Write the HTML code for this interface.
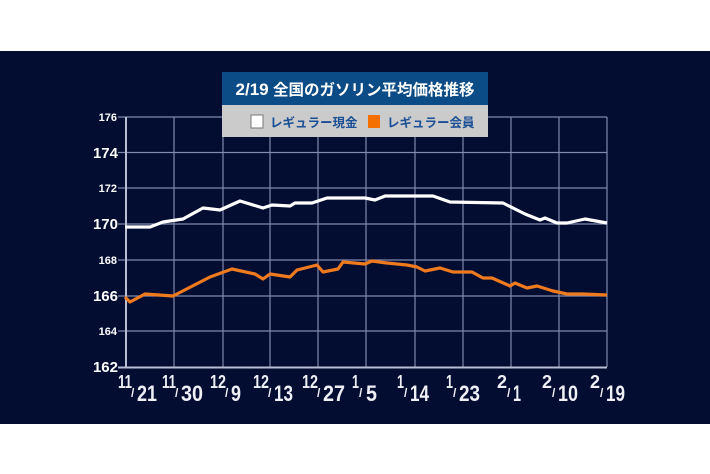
<!DOCTYPE html>
<html><head><meta charset="utf-8"><style>
html,body{margin:0;padding:0;background:#fff;}
svg{display:block;}
</style></head><body>
<svg width="710" height="474" viewBox="0 0 710 474" xmlns="http://www.w3.org/2000/svg" font-family="Liberation Sans, Noto Sans CJK JP, sans-serif">
<rect x="0" y="0" width="710" height="474" fill="#ffffff"/>
<rect x="0" y="51" width="710" height="373" fill="#030c31"/>
<g stroke="#7f89ad" stroke-width="1.2" fill="none">
<line x1="118" y1="117" x2="607" y2="117"/>
<line x1="118" y1="152.5" x2="607" y2="152.5"/>
<line x1="118" y1="188" x2="607" y2="188"/>
<line x1="118" y1="224" x2="607" y2="224"/>
<line x1="118" y1="260" x2="607" y2="260"/>
<line x1="118" y1="296" x2="607" y2="296"/>
<line x1="118" y1="331" x2="607" y2="331"/>
<line x1="174" y1="117" x2="174" y2="367"/>
<line x1="223" y1="117" x2="223" y2="367"/>
<line x1="270" y1="117" x2="270" y2="367"/>
<line x1="318" y1="117" x2="318" y2="367"/>
<line x1="366" y1="117" x2="366" y2="367"/>
<line x1="415" y1="117" x2="415" y2="367"/>
<line x1="463" y1="117" x2="463" y2="367"/>
<line x1="511" y1="117" x2="511" y2="367"/>
<line x1="559" y1="117" x2="559" y2="367"/>
<line x1="607" y1="117" x2="607" y2="367"/>
</g>
<g stroke="#b8bed4" stroke-width="2" fill="none">
<line x1="126" y1="117" x2="126" y2="368"/>
<line x1="118" y1="367.5" x2="607" y2="367.5"/>
</g>
<g fill="#ffffff" font-weight="bold" text-anchor="end">
<text x="117" y="121" font-size="11">176</text>
<text x="118" y="158" font-size="15">174</text>
<text x="117" y="192" font-size="11">172</text>
<text x="118" y="229" font-size="15">170</text>
<text x="117" y="264" font-size="11">168</text>
<text x="118" y="301" font-size="15">166</text>
<text x="117" y="335" font-size="11">164</text>
<text x="118" y="372" font-size="15">162</text>
</g>
<polyline fill="none" stroke="#ffffff" stroke-width="3.2" stroke-linejoin="round" points="125,227 150,227 163,222 183,219 203,208 220,210 240,201 263,208 272,205 290,206 295,203 312,203 327,198 365,198 375,200 385,196 433,196 450,202 503,203 525,214 540,220 545,218 557,223 567,223 585,219 607,223"/>
<polyline fill="none" stroke="#f07a1e" stroke-width="3.2" stroke-linejoin="round" points="125,297 130,302 145,294 173,296 210,277 232,269 255,274 263,279 270,274 290,277 297,270 317,265 323,272 338,269 343,262 365,264 372,261 387,263 407,265 417,267 425,271 440,268 453,272 472,272 483,278 492,278 510,286 515,283 527,288 537,286 553,291 567,294 583,294 607,295"/>
<rect x="222" y="72" width="266" height="33" fill="#0c4c86"/>
<rect x="222" y="105" width="266" height="32" fill="#cbcbcb"/>
<text x="355" y="95" fill="#ffffff" font-size="15.5" font-weight="bold" text-anchor="middle"><tspan font-size="17">2/19</tspan> 全国のガソリン平均価格推移</text>
<rect x="251" y="115" width="12" height="13" fill="#ffffff" stroke="#777" stroke-width="1"/>
<text x="270" y="127" fill="#1a4f95" font-size="12.5" font-weight="bold">レギュラー現金</text>
<rect x="368" y="115" width="12" height="13" fill="#f56f00"/>
<text x="387" y="127" fill="#1a4f95" font-size="12.5" font-weight="bold">レギュラー会員</text>
<g fill="#eef0f6" font-weight="bold">
<text x="118" y="388" font-size="18" textLength="14" lengthAdjust="spacingAndGlyphs">11</text><text x="131" y="397" font-size="12">/</text><text x="137" y="401" font-size="22" textLength="20" lengthAdjust="spacingAndGlyphs">21</text>
<text x="162" y="388" font-size="18" textLength="14" lengthAdjust="spacingAndGlyphs">11</text><text x="175" y="397" font-size="12">/</text><text x="181" y="401" font-size="22" textLength="22" lengthAdjust="spacingAndGlyphs">30</text>
<text x="210" y="388" font-size="18" textLength="16" lengthAdjust="spacingAndGlyphs">12</text><text x="225" y="397" font-size="12">/</text><text x="231" y="401" font-size="22" textLength="10" lengthAdjust="spacingAndGlyphs">9</text>
<text x="253" y="388" font-size="18" textLength="16" lengthAdjust="spacingAndGlyphs">12</text><text x="268" y="397" font-size="12">/</text><text x="274" y="401" font-size="22" textLength="19" lengthAdjust="spacingAndGlyphs">13</text>
<text x="302" y="388" font-size="18" textLength="16" lengthAdjust="spacingAndGlyphs">12</text><text x="317" y="397" font-size="12">/</text><text x="323" y="401" font-size="22" textLength="22" lengthAdjust="spacingAndGlyphs">27</text>
<text x="352" y="388" font-size="18" textLength="7" lengthAdjust="spacingAndGlyphs">1</text><text x="359" y="397" font-size="12">/</text><text x="366" y="401" font-size="22" textLength="11" lengthAdjust="spacingAndGlyphs">5</text>
<text x="397" y="388" font-size="18" textLength="7" lengthAdjust="spacingAndGlyphs">1</text><text x="404" y="397" font-size="12">/</text><text x="410" y="401" font-size="22" textLength="19" lengthAdjust="spacingAndGlyphs">14</text>
<text x="446" y="388" font-size="18" textLength="7" lengthAdjust="spacingAndGlyphs">1</text><text x="453" y="397" font-size="12">/</text><text x="459" y="401" font-size="22" textLength="21" lengthAdjust="spacingAndGlyphs">23</text>
<text x="497" y="388" font-size="18" textLength="10" lengthAdjust="spacingAndGlyphs">2</text><text x="507" y="397" font-size="12">/</text><text x="513" y="401" font-size="22" textLength="8" lengthAdjust="spacingAndGlyphs">1</text>
<text x="542" y="388" font-size="18" textLength="10" lengthAdjust="spacingAndGlyphs">2</text><text x="552" y="397" font-size="12">/</text><text x="558" y="401" font-size="22" textLength="20" lengthAdjust="spacingAndGlyphs">10</text>
<text x="590" y="388" font-size="18" textLength="10" lengthAdjust="spacingAndGlyphs">2</text><text x="600" y="397" font-size="12">/</text><text x="606" y="401" font-size="22" textLength="19" lengthAdjust="spacingAndGlyphs">19</text>
</g>
</svg>
</body></html>
